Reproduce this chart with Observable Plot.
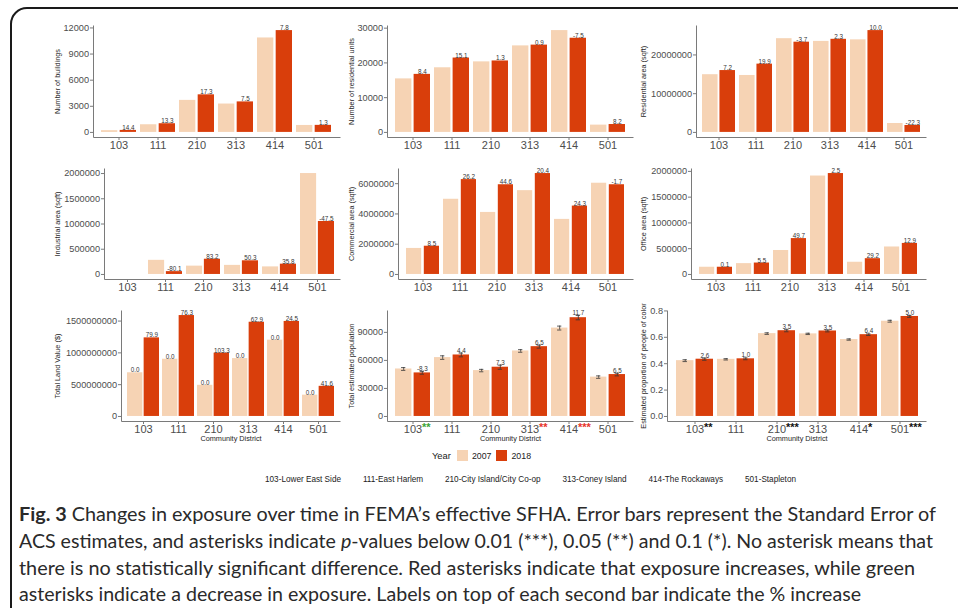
<!DOCTYPE html>
<html><head><meta charset="utf-8">
<script src="https://cdn.jsdelivr.net/npm/d3@7"></script>
<script src="https://cdn.jsdelivr.net/npm/@observablehq/plot@0.6"></script>
<style>
html,body{margin:0;padding:0;background:#fff}
body{width:958px;height:608px;overflow:hidden;position:relative;font-family:Arial,"Liberation Sans",sans-serif}
#box{position:absolute;left:10px;top:7px;width:990px;height:640px;border:2px solid #1a1a1a;border-radius:17px;box-sizing:border-box}
.panel{position:absolute}
#legend{position:absolute;left:5px;top:450px;width:958px;display:flex;justify-content:center;align-items:center;font-size:8.8px;color:#222}
#legend .ttl{font-size:9.4px;margin-right:6px}
#legend .sw{display:inline-block;width:11px;height:11px;margin-right:4px}
#legend .lb{margin-right:5px}
#names{position:absolute;left:265px;top:475px;white-space:nowrap;font-size:8.2px;color:#222}
#names span{display:inline-block}
#caption{position:absolute;left:19px;top:501px;font-family:Lato,"Open Sans",sans-serif;font-size:19.5px;line-height:26.8px;color:#2a2a2a}
.cap{display:inline-block;white-space:nowrap;transform-origin:0 50%}
</style></head><body>
<div id="box"></div>
<div id="charts"></div>
<div id="legend"></div>
<div id="names"></div>
<div id="caption"></div>
<script>
// ---------- data ----------
const districts = ["103","111","210","313","414","501"];
const districtNames = ["Lower East Side","East Harlem","City Island/City Co-op","Coney Island","The Rockaways","Stapleton"];
const years = ["2007","2018"];
const yearColors = ["#f6d3b4","#d93e0b"];

const buildings2007 = [200, 880, 3680, 3260, 10850, 800];
const buildings2018 = [229, 997, 4317, 3505, 11696, 810];
const buildingsPct = ["14.4","13.3","17.3","7.5","7.8","1.3"];
const buildingsTicks = [0, 3000, 6000, 9000, 12000];

const units2007 = [15400, 18600, 20300, 24900, 29300, 2100];
const units2018 = [16700, 21400, 20560, 25120, 27100, 2270];
const unitsPct = ["8.4","15.1","1.3","0.9","-7.5","8.2"];
const unitsTicks = [0, 10000, 20000, 30000];

const resArea2007 = [14900000, 14700000, 24200000, 23500000, 23900000, 2300000];
const resArea2018 = [15970000, 17630000, 23300000, 24040000, 26290000, 1790000];
const resAreaPct = ["7.2","19.9","-3.7","2.3","10.0","-22.3"];
const resAreaTicks = [0, 10000000, 20000000];

const indArea2007 = [0, 280000, 165000, 180000, 150000, 2000000];
const indArea2018 = [0, 56000, 302000, 270500, 204000, 1050000];
const indAreaPct = ["","-80.1","83.2","50.3","35.8","-47.5"];
const indAreaTicks = [0, 500000, 1000000, 1500000, 2000000];

const comArea2007 = [1720000, 4970000, 4100000, 5540000, 3640000, 6030000];
const comArea2018 = [1866000, 6270000, 5930000, 6670000, 4520000, 5930000];
const comAreaPct = ["8.5","26.2","44.6","20.4","24.3","-1.7"];
const comAreaTicks = [0, 2000000, 4000000, 6000000];

const offArea2007 = [140000, 210000, 465000, 1910000, 237000, 533000];
const offArea2018 = [140100, 221600, 696000, 1958000, 306000, 602000];
const offAreaPct = ["0.1","5.5","49.7","2.5","29.2","12.9"];
const offAreaTicks = [0, 500000, 1000000, 1500000, 2000000];

const land2007 = [687000000, 900000000, 490000000, 910000000, 1200000000, 335000000];
const land2018 = [1236000000, 1587000000, 996000000, 1482000000, 1494000000, 474000000];
const land2007Lab = ["0.0","0.0","0.0","0.0","0.0","0.0"];
const landPct = ["79.9","76.3","103.3","62.9","24.5","41.6"];
const landTicks = [0, 500000000, 1000000000, 1500000000];

const pop2007 = [50800, 63000, 49100, 70100, 94600, 42100];
const pop2018 = [46600, 65800, 52700, 74700, 105700, 44840];
const popSe2007 = [1500, 1900, 1300, 1400, 2100, 1300];
const popSe2018 = [1400, 2000, 2200, 1600, 2300, 1400];
const popPct = ["-8.3","4.4","7.3","6.5","11.7","6.5"];
const popTicks = [0, 30000, 60000, 90000];
const popSig = ["**","","","**","***",""];
const popSigColor = ["#3aa335","","","#e8332a","#e8332a",""];

const poc2007 = [0.423, 0.433, 0.628, 0.626, 0.583, 0.722];
const poc2018 = [0.434, 0.437, 0.650, 0.648, 0.620, 0.758];
const pocSe2007 = [0.007, 0.005, 0.006, 0.005, 0.005, 0.007];
const pocSe2018 = [0.008, 0.007, 0.008, 0.007, 0.006, 0.007];
const pocPct = ["2.6","1.0","3.5","3.5","6.4","5.0"];
const pocTicks = [0, 0.2, 0.4, 0.6, 0.8];
const pocSig = ["**","","***","","*","***"];
const pocSigColor = ["#111","","#111","","#111","#111"];

const captionLines = [
  '<b>Fig. 3</b> Changes in exposure over time in FEMA\u2019s effective SFHA. Error bars represent the Standard Error of',
  'ACS estimates, and asterisks indicate <i>p</i>-values below 0.01 (***), 0.05 (**) and 0.1 (*). No asterisk means that',
  'there is no statistically significant difference. Red asterisks indicate that exposure increases, while green',
  'asterisks indicate a decrease in exposure. Labels on top of each second bar indicate the % increase'
];
const captionWidths = [917, 914, 896, 842];

// ---------- layout ----------
const W = 293, MR = 3, MT = 12;
const rowTop = [13, 156, 298];
const rowInnerH = [112, 111, 111];
const rowMB = [22, 22, 34];
const colLeft = [50, 343, 636];
const titleX = [7, 8, 7.5];
const FONT = "Arial, Liberation Sans, Helvetica, sans-serif";
const AXIS = "#7a7a7a", TICKTXT = "#4d4d4d", TXT = "#262626";

const panels = [
  {row:0,col:0,ml:43,v07:buildings2007,v18:buildings2018,pct18:buildingsPct,ticks:buildingsTicks,ylabel:"Number of buildings"},
  {row:0,col:1,ml:44,v07:units2007,v18:units2018,pct18:unitsPct,ticks:unitsTicks,ylabel:"Number of residential units"},
  {row:0,col:2,ml:60,v07:resArea2007,v18:resArea2018,pct18:resAreaPct,ticks:resAreaTicks,ylabel:"Residential area (sqft)"},
  {row:1,col:0,ml:54,v07:indArea2007,v18:indArea2018,pct18:indAreaPct,ticks:indAreaTicks,ylabel:"Industrial area (sqft)"},
  {row:1,col:1,ml:55,v07:comArea2007,v18:comArea2018,pct18:comAreaPct,ticks:comAreaTicks,ylabel:"Commercial area (sqft)"},
  {row:1,col:2,ml:55,v07:offArea2007,v18:offArea2018,pct18:offAreaPct,ticks:offAreaTicks,ylabel:"Office area (sqft)"},
  {row:2,col:0,ml:71,v07:land2007,v18:land2018,pct07:land2007Lab,pct18:landPct,ticks:landTicks,ylabel:"Total Land Value ($)"},
  {row:2,col:1,ml:44,v07:pop2007,v18:pop2018,se07:popSe2007,se18:popSe2018,pct18:popPct,ticks:popTicks,ylabel:"Total estimated population",sig:popSig,sigColor:popSigColor},
  {row:2,col:2,ml:31,v07:poc2007,v18:poc2018,se07:pocSe2007,se18:pocSe2018,pct18:pocPct,ticks:pocTicks,fmt:d3.format(".1f"),ylabel:"Estimated proportion of people of color",sig:pocSig,sigColor:pocSigColor}
];

function makePanel(p) {
  const innerH = rowInnerH[p.row];
  const H = MT + innerH + rowMB[p.row];
  const innerW = W - p.ml - MR;
  const bw = 0.9 * innerW / 6.2;
  const gap = 1.5;
  const off = bw / 4 + gap / 4;
  const mk = (vals, se, labs) => districts.map((d, i) => ({
    d, v: vals[i],
    lo: se ? vals[i] - se[i] : vals[i],
    hi: se ? vals[i] + se[i] : vals[i],
    t: labs ? labs[i] : ""
  }));
  const r07 = mk(p.v07, p.se07, p.pct07);
  const r18 = mk(p.v18, p.se18, p.pct18);
  const M = d3.max([...r07, ...r18], r => r.hi);
  const marks = [
    Plot.barY(r07, {x: "d", y: "v", fill: yearColors[0], insetRight: bw / 2 + gap / 2}),
    Plot.barY(r18, {x: "d", y: "v", fill: yearColors[1], insetLeft: bw / 2 + gap / 2})
  ];
  if (p.se07) {
    for (const [rs, dx] of [[r07, -off], [r18, off]]) {
      marks.push(Plot.ruleX(rs, {x: "d", y1: "lo", y2: "hi", dx, stroke: "#333", strokeWidth: 0.8}));
      for (const yk of ["lo", "hi"]) {
        marks.push(Plot.tickY(rs, {x: "d", y: yk, insetLeft: bw / 2 + dx - 2.5, insetRight: bw / 2 - dx - 2.5, stroke: "#333", strokeWidth: 0.8}));
      }
    }
  }
  marks.push(Plot.text(r18.filter(r => r.t), {x: "d", y: "hi", text: "t", dx: off, dy: -0.5, lineAnchor: "bottom", fontSize: 6.3, fill: "#333", fontFamily: FONT}));
  if (p.pct07) marks.push(Plot.text(r07.filter(r => r.t), {x: "d", y: "hi", text: "t", dx: -off, dy: -0.5, lineAnchor: "bottom", fontSize: 6.3, fill: "#333", fontFamily: FONT}));
  marks.push(Plot.frame({stroke: AXIS, strokeWidth: 1, strokeDasharray: `0 ${innerW + innerH} ${innerW + innerH}`}));
  marks.push(Plot.axisY({ticks: p.ticks, tickFormat: p.fmt || d3.format("d"), tickSize: 3, tickPadding: 1.5, fontSize: 9.2, fontFamily: FONT, label: null, stroke: AXIS, fill: TICKTXT}));
  marks.push(Plot.axisX({tickSize: 3, tickPadding: 1, fontSize: 11, fontFamily: FONT, label: null, stroke: AXIS, fill: TICKTXT}));
  marks.push(Plot.text([p.ylabel], {frameAnchor: "left", rotate: -90, textAnchor: "middle", lineAnchor: "middle", dx: titleX[p.col] - p.ml, fontSize: 7.3, fontFamily: FONT, fill: TXT}));
  if (p.row === 2) marks.push(Plot.text(["Community District"], {frameAnchor: "bottom", textAnchor: "middle", lineAnchor: "middle", dy: 17, fontSize: 7.3, fontFamily: FONT, fill: TXT}));
  if (p.sig) {
    const sr = districts.map((d, i) => ({d, s: p.sig[i], c: p.sigColor[i]})).filter(r => r.s);
    marks.push(Plot.text(sr, {x: "d", text: "s", fill: "c", frameAnchor: "bottom", dy: 1.5, dx: 9, textAnchor: "start", lineAnchor: "top", fontSize: 11, fontWeight: "bold", fontFamily: FONT}));
  }
  const chart = Plot.plot({
    width: W, height: H,
    marginLeft: p.ml, marginRight: MR, marginTop: MT, marginBottom: rowMB[p.row],
    x: {domain: districts, paddingInner: 0.1, paddingOuter: 0.15},
    y: {domain: [-0.05 * M, 1.05 * M]},
    style: {fontFamily: FONT, background: "transparent", overflow: "visible"},
    marks
  });
  const wrap = document.createElement("div");
  wrap.className = "panel";
  wrap.style.left = colLeft[p.col] + "px";
  wrap.style.top = rowTop[p.row] + "px";
  wrap.appendChild(chart);
  document.getElementById("charts").appendChild(wrap);
}
panels.forEach(makePanel);

// legend
const lg = document.getElementById("legend");
lg.innerHTML = '<span class="ttl">Year</span>' + years.map((y, i) =>
  `<span class="sw" style="background:${yearColors[i]}"></span><span class="lb">${y}</span>`).join("");
const nm = document.getElementById("names");
nm.innerHTML = districts.map((d, i) => `<span>${d}-${districtNames[i]}</span>`).join("");
{
  const spans = [...nm.querySelectorAll("span")];
  const tw = d3.sum(spans, s => s.getBoundingClientRect().width);
  const g = (531 - tw) / (spans.length - 1);
  spans.forEach((s, i) => { if (i) s.style.marginLeft = g + "px"; });
}

// caption
const cap = document.getElementById("caption");
cap.innerHTML = captionLines.map(l => `<div><span class="cap">${l}</span></div>`).join("");
cap.querySelectorAll(".cap").forEach((el, i) => {
  const w = el.getBoundingClientRect().width;
  el.style.transform = `scaleX(${captionWidths[i] / w})`;
});
</script>
</body></html>
